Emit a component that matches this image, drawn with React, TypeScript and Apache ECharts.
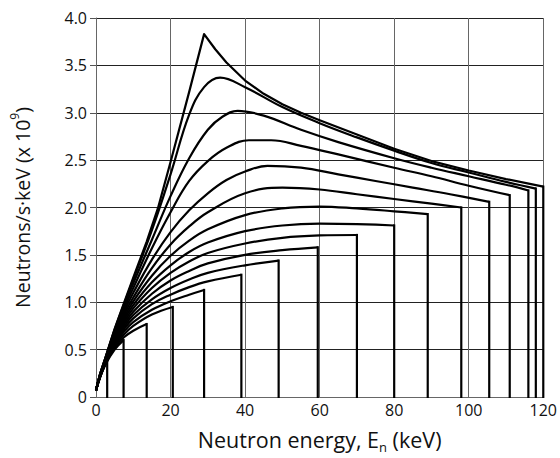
import React, { useEffect, useRef } from "react";
import * as echarts from "echarts";

// Axis ticks
const xTicks = [0, 20, 40, 60, 80, 100, 120];
const yTicks = [0, 0.5, 1.0, 1.5, 2.0, 2.5, 3.0, 3.5, 4.0];

// Spectra: [neutron energy keV, neutrons/s·keV (x 10^9)]; last point = cutoff energy
const curve03 = [[0, 0.07], [1, 0.2], [2, 0.3], [3, 0.39]];
const curve07 = [[0, 0.07], [1, 0.2], [2.5, 0.34], [5, 0.5], [7.4, 0.6]];
const curve13 = [[0, 0.07], [1, 0.2], [2.5, 0.345], [5, 0.52], [7.5, 0.63], [10, 0.7], [13.6, 0.77]];
const curve20 = [[0, 0.07], [1, 0.2], [2.5, 0.35], [5, 0.535], [7.5, 0.66], [10, 0.75], [15, 0.87], [20.6, 0.95]];
const curve29 = [[0, 0.07], [1, 0.205], [2.5, 0.355], [5, 0.55], [7.5, 0.69], [10, 0.79], [15, 0.92], [20, 1.01], [25, 1.08], [29, 1.13]];
const curve39 = [[0, 0.07], [1, 0.205], [2.5, 0.36], [5, 0.565], [7.5, 0.715], [10, 0.83], [15, 0.98], [20, 1.08], [25, 1.16], [30, 1.22], [39, 1.29]];
const curve49 = [[0, 0.07], [1, 0.21], [2.5, 0.365], [5, 0.58], [7.5, 0.74], [10, 0.865], [15, 1.03], [20, 1.15], [25, 1.24], [30, 1.31], [40, 1.39], [49, 1.44]];
const curve59 = [[0, 0.07], [1, 0.21], [2.5, 0.37], [5, 0.595], [7.5, 0.765], [10, 0.9], [15, 1.09], [20, 1.23], [25, 1.33], [30, 1.41], [40, 1.5], [50, 1.55], [59.5, 1.58]];
const curve70 = [[0, 0.07], [1, 0.21], [2.5, 0.375], [5, 0.61], [7.5, 0.79], [10, 0.935], [15, 1.15], [20, 1.31], [25, 1.43], [30, 1.52], [40, 1.62], [50, 1.68], [60, 1.705], [70, 1.71]];
const curve80 = [[0, 0.07], [1, 0.215], [2.5, 0.38], [5, 0.625], [7.5, 0.815], [10, 0.97], [15, 1.21], [20, 1.39], [25, 1.53], [30, 1.63], [40, 1.75], [50, 1.81], [60, 1.83], [70, 1.825], [80, 1.81]];
const curve89 = [[0, 0.07], [1, 0.215], [2.5, 0.385], [5, 0.64], [7.5, 0.84], [10, 1.01], [15, 1.28], [20, 1.49], [25, 1.65], [30, 1.77], [40, 1.92], [50, 1.99], [60, 2.01], [70, 1.99], [80, 1.96], [89, 1.93]];
const curve98 = [[0, 0.07], [1, 0.22], [2.5, 0.39], [5, 0.655], [7.5, 0.87], [10, 1.05], [15, 1.36], [20, 1.61], [25, 1.8], [30, 1.95], [40, 2.15], [50, 2.21], [60, 2.19], [70, 2.14], [80, 2.09], [90, 2.04], [98, 2.0]];
const curve105 = [[0, 0.07], [1, 0.22], [2.5, 0.395], [5, 0.67], [7.5, 0.9], [10, 1.1], [15, 1.45], [20, 1.74], [25, 1.97], [30, 2.15], [35, 2.29], [40, 2.38], [46, 2.44], [55, 2.42], [65, 2.35], [75, 2.28], [85, 2.21], [95, 2.14], [105.5, 2.06]];
const curve111 = [[0, 0.07], [1, 0.225], [2.5, 0.4], [5, 0.685], [7.5, 0.93], [10, 1.15], [15, 1.57], [20, 1.95], [25, 2.28], [30, 2.49], [35, 2.63], [41, 2.71], [47, 2.71], [55, 2.65], [65, 2.56], [80, 2.42], [90, 2.33], [100, 2.23], [111, 2.13]];
const curve116 = [[0, 0.07], [1, 0.225], [2.5, 0.405], [5, 0.7], [7.5, 0.96], [10, 1.2], [15, 1.66], [20, 2.12], [25, 2.52], [30, 2.82], [34, 2.96], [38, 3.02], [45, 2.97], [55, 2.82], [65, 2.69], [80, 2.52], [90, 2.42], [100, 2.33], [110, 2.24], [116, 2.18]];
const curve118 = [[0, 0.07], [1, 0.23], [2.5, 0.41], [5, 0.71], [7.5, 0.98], [10, 1.24], [15, 1.76], [20, 2.35], [25, 2.98], [29, 3.27], [33.3, 3.37], [40, 3.27], [50, 3.06], [60, 2.89], [70, 2.74], [80, 2.6], [90, 2.47], [100, 2.37], [110, 2.27], [118, 2.2]];
const curve120 = [[0, 0.07], [1, 0.23], [2.5, 0.41], [5, 0.72], [7.5, 0.99], [10, 1.26], [13.6, 1.64], [16.6, 1.99], [20, 2.48], [25, 3.22], [29, 3.83], [32, 3.67], [35, 3.53], [40, 3.34], [45, 3.2], [50, 3.09], [55, 3.0], [60, 2.92], [70, 2.77], [80, 2.62], [90, 2.49], [100, 2.39], [110, 2.3], [120, 2.22]];

const curves = [
  curve03, curve07, curve13, curve20, curve29, curve39, curve49, curve59, curve70,
  curve80, curve89, curve98, curve105, curve111, curve116, curve118, curve120,
];

const FONT = "'Open Sans', 'Noto Sans', sans-serif";

export default function App() {
  const ref = useRef<HTMLDivElement>(null);

  useEffect(() => {
    const chart = echarts.init(ref.current!, null, { renderer: "svg" });
    const series: any[] = [];
    curves.forEach((c, i) => {
      const isTop = i === curves.length - 1;
      series.push({
        type: "line",
        data: c,
        symbol: "none",
        smooth: isTop ? false : 0.4,
        lineStyle: { color: "#000", width: 2.2, join: "round" },
        silent: true,
        z: 3,
      });
      const last = c[c.length - 1];
      series.push({
        type: "line",
        data: [[last[0], last[1]], [last[0], 0]],
        symbol: "none",
        lineStyle: { color: "#000", width: 2.2, cap: "square" },
        silent: true,
        z: 3,
      });
    });

    chart.setOption({
      animation: false,
      backgroundColor: "#fff",
      grid: { left: 92, top: 18, width: 453, height: 379, containLabel: false },
      xAxis: {
        type: "value",
        min: xTicks[0],
        max: xTicks[xTicks.length - 1],
        interval: 20,
        name: "{a|Neutron energy, E}{sub|n}{a| (keV)}",
        nameLocation: "middle",
        nameGap: 27,
        nameTextStyle: {
          rich: {
            a: { fontSize: 21.5, fontFamily: FONT, color: "#111", lineHeight: 26, verticalAlign: "bottom" },
            sub: { fontSize: 13, fontFamily: FONT, color: "#111", lineHeight: 13, verticalAlign: "bottom", padding: [0, 0, -3, 0] },
          },
        },
        axisLine: { show: true, lineStyle: { color: "#666", width: 1 } },
        axisTick: { show: false },
        axisLabel: { fontSize: 16, fontFamily: FONT, color: "#111", margin: 5 },
        splitLine: { show: true, lineStyle: { color: "#666", width: 1 } },
      },
      yAxis: {
        type: "value",
        min: 0,
        max: yTicks[yTicks.length - 1],
        interval: 0.5,
        name: "{a|Neutrons/s·keV (x 10}{sup|9}{a|)}",
        nameLocation: "middle",
        nameGap: 64,
        nameTextStyle: {
          rich: {
            a: { fontSize: 19.5, fontFamily: FONT, color: "#111", lineHeight: 24, verticalAlign: "bottom" },
            sup: { fontSize: 12, fontFamily: FONT, color: "#111", lineHeight: 24, verticalAlign: "top" },
          },
        },
        axisLine: { show: true, lineStyle: { color: "#666", width: 1 } },
        axisTick: { show: true, inside: false, length: 6, lineStyle: { color: "#555" } },
        axisLabel: {
          fontSize: 16,
          fontFamily: FONT,
          color: "#111",
          margin: 9,
          formatter: (v: number) => (v === 0 ? "0" : v.toFixed(1)),
        },
        splitLine: { show: true, lineStyle: { color: "#222", width: 1.2 } },
      },
      series,
    });
    return () => chart.dispose();
  }, []);

  return (
    <div
      ref={ref}
      style={{ position: "fixed", left: 0, top: 0, width: 560, height: 458, background: "#fff" }}
    />
  );
}
